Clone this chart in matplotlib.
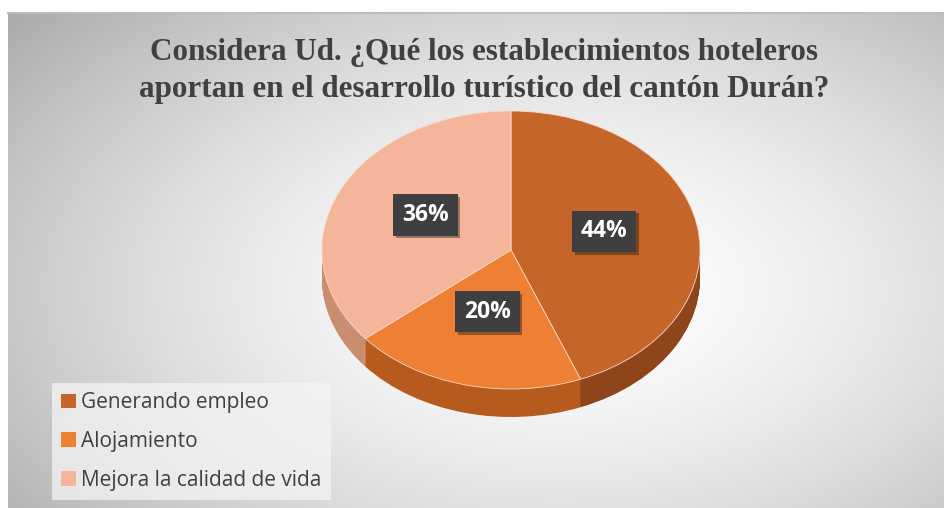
import numpy as np
import matplotlib
matplotlib.use("Agg")
import matplotlib.pyplot as plt
import matplotlib.patheffects as pe
from matplotlib.patches import Patch

# datos de la encuesta
categorias = ["Generando empleo", "Alojamiento", "Mejora la calidad de vida"]
porcentajes = [44, 20, 36]
colores = ["#C6652A", "#EE8033", "#F5B59A"]
colores_lado = ["#8E4519", "#B65A1E", "#C98E70"]
titulo = ("Considera Ud. ¿Qué los establecimientos hoteleros\n"
          "aportan en el desarrollo turístico del cantón Durán?")

W, H = 944, 508
fig = plt.figure(figsize=(W / 100, H / 100), dpi=100)
fig.patch.set_facecolor("white")

# fondo con degradado radial
bg = fig.add_axes([0, 0, 1, 1])
bg.set_xlim(0, W)
bg.set_ylim(H, 0)
bg.axis("off")
xx, yy = np.meshgrid(np.linspace(8, W, 400), np.linspace(12, H, 220))
r = np.sqrt(((xx - 560) / 560) ** 2 + ((yy - 290) / 330) ** 2)
tono = 1.0 - 0.22 * np.clip(r, 0, 1.3) ** 1.6
bg.imshow(np.dstack([tono, tono, tono]), extent=[8, W, H, 12],
          aspect="auto", zorder=0)
bg.plot([8, W], [12.5, 12.5], color="#BDBDBD", lw=1.5, zorder=1)

bg.text(484, 71, titulo, ha="center", va="center", fontsize=22.4,
        fontweight="bold", family="Liberation Serif", color="#404040",
        linespacing=1.33)

# pastel 3D: capas oscuras para el costado
cx, cy, rx, ry = 511, 250, 189, 139
aw, ah = 2.5 * rx, 2.5 * ry
ax = fig.add_axes([(cx - aw / 2) / W, 1 - (cy + ah / 2) / H, aw / W, ah / H])
profundidad = 28 / ry
for d in np.linspace(profundidad, 0.005, 40):
    ax.pie(porcentajes, colors=colores_lado, startangle=90, counterclock=False,
           center=(0, -d), wedgeprops=dict(linewidth=0))
cuñas, _, etiquetas = ax.pie(porcentajes, colors=colores, startangle=90,
                             counterclock=False, autopct="%1.0f%%",
                             pctdistance=0.5,
                             wedgeprops=dict(linewidth=0.6, edgecolor="#F7D9C8"))
ax.set_aspect("auto")
ax.set_xlim(-1.25, 1.25)
ax.set_ylim(-1.25, 1.25)
ax.axis("off")

for t in etiquetas:
    x, y = t.get_position()
    t.set_position((x, y + 0.04))
    t.set_color("white")
    t.set_fontsize(16.5)
    t.set_fontweight("bold")
    t.set_family("Open Sans")
    t.set_bbox(dict(facecolor="#3F3F3F", edgecolor="none",
                    boxstyle="square,pad=0.38"))
    t.get_bbox_patch().set_path_effects(
        [pe.SimplePatchShadow(offset=(2, -2), alpha=0.4), pe.Normal()])

handles = [Patch(facecolor=c, edgecolor="none") for c in colores]
leg = fig.legend(handles, categorias, loc="lower left",
                 bbox_to_anchor=(52 / W, 8 / H), frameon=True,
                 fancybox=False, prop=dict(family="Open Sans", size=15),
                 handlelength=0.7, handleheight=0.7, handletextpad=0.25,
                 labelspacing=0.85, borderpad=0.45, borderaxespad=0,
                 labelcolor="#404040")
leg.get_frame().set_facecolor("#F4F4F4")
leg.get_frame().set_alpha(0.75)
leg.get_frame().set_edgecolor("none")

fig.savefig("out.png", dpi=100)
